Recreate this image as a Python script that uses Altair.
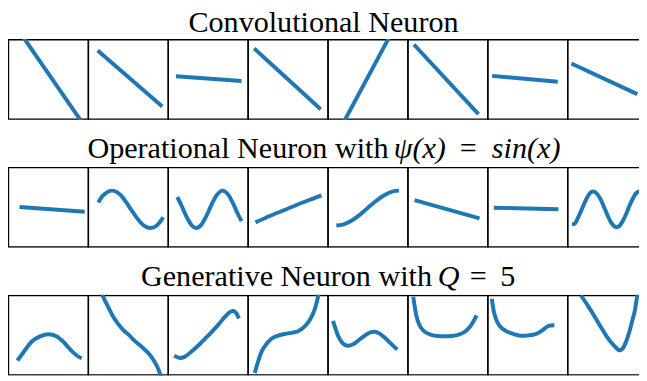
import altair as alt
import pandas as pd

# ---------------- data ----------------
# Row 1: Convolutional Neuron (straight lines), local x in [-1, 1]
CONV_X = [[-1.0, 1.0], [-0.92, 1.02], [-0.97, 1.0], [-1.02, 0.98],
          [-1.0, 1.0], [-1.02, 0.92], [-1.07, 0.9], [-1.09, 0.89]]
CONV_Y = [[1.36, -1.07], [0.73, -0.68], [0.08, -0.04], [0.78, -0.75],
          [-1.5, 1.63], [0.88, -0.875], [0.09, -0.06], [0.40, -0.37]]

# Row 2: Operational Neuron with psi(x) = sin(x)
OPER_X = [
    [-0.87, 1.09],
    [-0.9, -0.8, -0.7, -0.6, -0.49, -0.35, -0.2, -0.05, 0.1, 0.25, 0.4, 0.55, 0.65, 0.8, 0.95, 1.045],
    [-0.93, -0.8, -0.7, -0.6, -0.5, -0.36, -0.2, -0.05, 0.1, 0.25, 0.43, 0.6, 0.75, 0.88, 1.0],
    [-0.98, -0.5, 0.0, 0.5, 1.0],
    [-0.95, -0.75, -0.5, -0.25, 0.0, 0.25, 0.5, 0.75, 0.93],
    [-1.0, 0.95],
    [-1.02, 0.92],
    [-1.07, -1.0, -0.9, -0.8, -0.7, -0.6, -0.5, -0.43, -0.3, -0.2, -0.1, 0.0, 0.1, 0.2, 0.265,
     0.35, 0.45, 0.55, 0.65, 0.75, 0.85, 0.95, 1.05],
]
OPER_Y = [
    [0.01, -0.11],
    [0.12, 0.26, 0.34, 0.40, 0.42, 0.385, 0.28, 0.11, -0.08, -0.26, -0.41, -0.50, -0.52, -0.49, -0.37, -0.25],
    [0.26, 0.04, -0.15, -0.32, -0.45, -0.52, -0.43, -0.21, 0.07, 0.30, 0.42, 0.32, 0.09, -0.15, -0.35],
    [-0.38, -0.2, -0.03, 0.14, 0.30],
    [-0.46, -0.435, -0.34, -0.19, -0.01, 0.165, 0.31, 0.40, 0.42],
    [0.18, -0.28],
    [-0.01, -0.05],
    [-0.43, -0.42, -0.28, -0.095, 0.10, 0.27, 0.38, 0.40, 0.32, 0.18, -0.01, -0.21, -0.38, -0.48, -0.50,
     -0.47, -0.35, -0.18, 0.03, 0.21, 0.35, 0.40, 0.36],
]

# Row 3: Generative Neuron with Q = 5
GEN_X = [
    [-0.93, -0.75, -0.5, -0.25, 0.0, 0.25, 0.45, 0.6, 0.75, 0.9, 1.0],
    [-1.0, -0.9, -0.77, -0.6, -0.45, -0.3, -0.15, 0.0, 0.15, 0.3, 0.45, 0.6, 0.75, 0.9, 1.0],
    [-1.02, -0.85, -0.7, -0.5, -0.3, -0.1, 0.1, 0.3, 0.5, 0.65, 0.75, 0.85, 0.92],
    [-1.0, -0.9, -0.8, -0.65, -0.5, -0.3, -0.1, 0.1, 0.3, 0.5, 0.65, 0.8, 0.9, 1.0],
    [-1.05, -0.9, -0.8, -0.7, -0.6, -0.45, -0.3, -0.1, 0.05, 0.2, 0.35, 0.5, 0.65, 0.8, 0.88],
    [-1.04, -0.95, -0.85, -0.7, -0.5, -0.3, -0.1, 0.1, 0.3, 0.5, 0.65, 0.75, 0.86],
    [-1.08, -1.02, -0.95, -0.85, -0.66, -0.5, -0.3, -0.16, 0.0, 0.23, 0.45, 0.63, 0.8],
    [-0.8, -0.6, -0.4, -0.2, 0.0, 0.2, 0.36, 0.45, 0.55, 0.65, 0.75, 0.82, 0.87, 1.0],
]
GEN_Y = [
    [-0.64, -0.43, -0.16, -0.03, 0.025, -0.03, -0.17, -0.31, -0.44, -0.54, -0.58],
    [1.6, 1.3, 1.0, 0.7, 0.46, 0.28, 0.13, 0.02, -0.11, -0.22, -0.33, -0.45, -0.62, -0.85, -1.1],
    [-0.515, -0.575, -0.54, -0.41, -0.26, -0.09, 0.08, 0.26, 0.46, 0.58, 0.61, 0.55, 0.42],
    [-0.95, -0.66, -0.42, -0.22, -0.09, -0.01, 0.03, 0.06, 0.10, 0.22, 0.38, 0.65, 0.97, 1.35],
    [0.36, -0.01, -0.16, -0.24, -0.265, -0.23, -0.14, -0.01, 0.065, 0.085, 0.04, -0.06, -0.18, -0.3, -0.365],
    [0.97, 0.5, 0.25, 0.09, 0.01, -0.02, -0.025, -0.02, 0.01, 0.08, 0.2, 0.32, 0.5],
    [0.92, 0.6, 0.4, 0.24, 0.11, 0.05, 0.0, -0.015, -0.005, 0.025, 0.13, 0.235, 0.25],
    [1.0, 0.75, 0.48, 0.2, -0.07, -0.27, -0.38, -0.34, -0.17, 0.08, 0.40, 0.63, 0.9, 1.5],
]

# Titles: (text, italic)
TITLE_1 = [("Convolutional Neuron", False)]
TITLE_2 = [("Operational Neuron with", False), ("ψ(x)", True), ("=", False), ("sin(x)", True)]
TITLE_3 = [("Generative Neuron with", False), ("Q", True), ("=", False), ("5", False)]

N_PANELS = 8

# ---------------- layout / style ----------------
VIEW_W = 639
VIEW_H = 82
PANEL_SPAN = 2.4          # local x domain per panel: [-1.2, 1.2]
PX_PER_UNIT = 80.9 / PANEL_SPAN
X_START = -PANEL_SPAN / 2 - 0.5 / PX_PER_UNIT
X_END = X_START + VIEW_W / PX_PER_UNIT
Y_LIM = 1.02
BLUE = "#1f77b4"
FONT = "Liberation Serif"
FONT_SIZE = 30.5

# (x position in view px, align) for each title piece
TITLE_POS_1 = [(319.5, "center")]
TITLE_POS_2 = [(232.85, "center"), (417.0, "center"), (466.0, "center"), (490.0, "left")]
TITLE_POS_3 = [(282.0, "center"), (446.2, "center"), (476.2, "center"), (506.2, "center")]
TITLE_DY = [-7, -9, -9]

xscale = alt.Scale(domain=[X_START, X_END], nice=False, zero=False)
yscale = alt.Scale(domain=[-Y_LIM, Y_LIM], nice=False, zero=False)

frame_df = pd.DataFrame({
    "panel": list(range(N_PANELS)),
    "x1": [i * PANEL_SPAN - PANEL_SPAN / 2 for i in range(N_PANELS)],
    "x2": [i * PANEL_SPAN + PANEL_SPAN / 2 for i in range(N_PANELS)],
    "y1": [-1.0] * N_PANELS,
    "y2": [1.0] * N_PANELS,
})


def line_table(xs_list, ys_list):
    recs = []
    for i, (xs, ys) in enumerate(zip(xs_list, ys_list)):
        for x, y in zip(xs, ys):
            recs.append({"panel": i, "x": x, "y": y, "gx": i * PANEL_SPAN + x})
    return pd.DataFrame(recs)


def row_chart(xs_list, ys_list, title_parts, title_pos, dy):
    frames = alt.Chart(frame_df).mark_rect(
        filled=False, stroke="black", strokeWidth=1.4, clip=True
    ).encode(
        x=alt.X("x1:Q", scale=xscale, axis=None),
        x2="x2:Q",
        y=alt.Y("y1:Q", scale=yscale, axis=None),
        y2="y2:Q",
    )
    lines = alt.Chart(line_table(xs_list, ys_list)).mark_line(
        color=BLUE, strokeWidth=4, interpolate="monotone", clip=True, strokeCap="butt"
    ).encode(
        x=alt.X("gx:Q", scale=xscale, axis=None),
        y=alt.Y("y:Q", scale=yscale, axis=None),
        detail="panel:N",
    )
    layers = [frames, lines]
    for (txt, italic), (xpos, align) in zip(title_parts, title_pos):
        kw = dict(font=FONT, fontSize=FONT_SIZE, align=align, baseline="alphabetic", color="black")
        if italic:
            kw["fontStyle"] = "italic"
        t = alt.Chart(pd.DataFrame({"t": [txt]})).mark_text(**kw).encode(
            text="t:N", x=alt.value(xpos), y=alt.value(dy)
        )
        layers.append(t)
    return alt.layer(*layers).properties(width=VIEW_W, height=VIEW_H)


chart = alt.vconcat(
    row_chart(CONV_X, CONV_Y, TITLE_1, TITLE_POS_1, TITLE_DY[0]),
    row_chart(OPER_X, OPER_Y, TITLE_2, TITLE_POS_2, TITLE_DY[1]),
    row_chart(GEN_X, GEN_Y, TITLE_3, TITLE_POS_3, TITLE_DY[2]),
    spacing=14.5,
).configure_view(strokeWidth=0).properties(
    padding={"left": 0, "top": -2, "right": 0, "bottom": 0},
    background="white",
)

chart.save("out.html", embed_options={"renderer": "svg", "actions": False})
